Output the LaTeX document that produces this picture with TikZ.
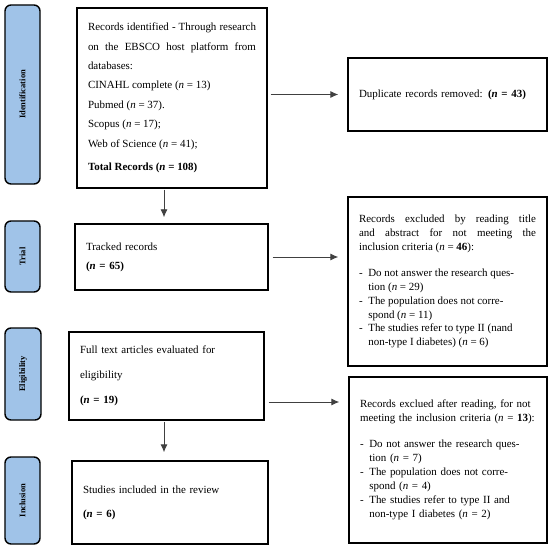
\documentclass[tikz,border=0pt]{standalone}
\usepackage{fontspec}
\setmainfont{Liberation Serif}
\usepackage{tikz}
\usetikzlibrary{arrows.meta}

\definecolor{stageblue}{RGB}{160,195,232}
\newcommand{\nval}[1]{(\textit{n} = #1)}
\newcommand{\listline}[2]{\makebox[0.85em][l]{-}#1\\\hspace*{0.85em}#2}

\begin{document}
\begin{tikzpicture}[x=1bp,y=-1bp]
  \tikzset{StageStyle/.style = {
    shape          = rectangle,
    rounded corners= 6bp,
    draw           = black,
    fill           = stageblue,
    line width     = 1.4bp,
    text           = black,
    font           = \fontsize{8.5}{10}\selectfont\bfseries,
    inner sep      = 0pt,
    rotate         = 90
    }
  }
  \tikzset{BoxStyle/.style = {
    shape         = rectangle,
    draw          = black,
    fill          = white,
    line width    = 1.4bp,
    text          = black,
    inner xsep    = 11bp,
    inner ysep    = 0pt,
    font          = \fontsize{11}{14}\selectfont
    }
  }
  \tikzset{ArrowStyle/.style = {
    draw          = black!75,
    line width    = 0.9bp,
    -{Latex[length=8bp,width=7bp]}
    }
  }
  \useasboundingbox (0,0) rectangle (550,548);

  % stages on the left
  \node[StageStyle, minimum width=179bp, minimum height=35bp](sIdent) at (22.5, 94.5) {Identification};
  \node[StageStyle, minimum width=71bp, minimum height=35bp](sTrial) at (22.5, 256.5) {Trial};
  \node[StageStyle, minimum width=92bp, minimum height=36bp](sElig) at (23, 374) {Eligibility};
  \node[StageStyle, minimum width=87bp, minimum height=35bp](sIncl) at (22.5, 500.5) {Inclusion};

  % main column
  \node[BoxStyle, minimum width=190bp, minimum height=180bp, text width=168bp, align=justify,
    font=\fontsize{11}{19.5}\selectfont](ident) at (172, 98) {Records identified - Through research\linebreak
    on the EBSCO host platform from\linebreak databases:\\
    CINAHL complete \nval{13}\\
    Pubmed \nval{37}.\\
    Scopus \nval{17};\\
    Web of Science \nval{41};\\[4bp]
    \textbf{Total Records \nval{108}}};
  \node[BoxStyle, minimum width=193bp, minimum height=66bp, text width=171bp, align=left,
    font=\fontsize{11}{19}\selectfont](tracked) at (171.5, 257) {Tracked records\\
    \textbf{\nval{65}}};
  \node[BoxStyle, minimum width=195bp, minimum height=88bp, text width=173bp, align=left,
    font=\fontsize{11}{25}\selectfont](elig) at (166.5, 376) {Full text articles evaluated for\\
    eligibility\\
    \textbf{\nval{19}}};
  \node[BoxStyle, minimum width=196bp, minimum height=83bp, text width=174bp, align=left,
    font=\fontsize{11}{24}\selectfont](incl) at (170, 502.5) {Studies included in the review\\
    \textbf{\nval{6}}};

  % right column
  \node[BoxStyle, minimum width=199bp, minimum height=73bp, text width=177bp, align=left](dup)
    at (447.5, 94.5) {Duplicate records removed: \textbf{\nval{43}}};
  \node[BoxStyle, minimum width=199bp, minimum height=169bp, text width=177bp, align=justify](excl1)
    at (447.5, 281.5) {Records excluded by reading title\linebreak
    and abstract for not meeting the\linebreak
    inclusion criteria (\textit{n} = \textbf{46}):\\[12bp]
    \listline{Do not answer the research ques-}{tion \nval{29}}\\
    \listline{The population does not corre-}{spond \nval{11}}\\
    \listline{The studies refer to type II (nand}{non-type I diabetes) \nval{6}}};
  \node[BoxStyle, minimum width=198bp, minimum height=166bp, text width=176bp, align=left](excl2)
    at (448, 460) {Records exclued after reading, for not\\
    meeting the inclusion criteria (\textit{n} = \textbf{13}):\\[12bp]
    \listline{Do not answer the research ques-}{tion \nval{7}}\\
    \listline{The population does not corre-}{spond \nval{4}}\\
    \listline{The studies refer to type II and}{non-type I diabetes \nval{2}}\\[12bp]};

  % connectors
  \coordinate (d1) at ([xshift=-8bp]ident.south);
  \coordinate (d2) at ([xshift=-2.5bp]elig.south);
  \coordinate (r3) at ([yshift=-26bp]elig.east);
  \draw[ArrowStyle, shorten <=1bp, shorten >=6bp] (d1) -- (d1 |- tracked.north);
  \draw[ArrowStyle, shorten <=1bp, shorten >=8bp] (d2) -- (d2 |- incl.north);
  \draw[ArrowStyle, shorten <=3bp, shorten >=9bp] (ident.east |- dup.west) -- (dup.west);
  \draw[ArrowStyle, shorten <=4bp, shorten >=9bp] (tracked.east) -- (tracked.east -| excl1.west);
  \draw[ArrowStyle, shorten <=4bp, shorten >=9bp] (r3) -- (r3 -| excl2.west);
\end{tikzpicture}
\end{document}
